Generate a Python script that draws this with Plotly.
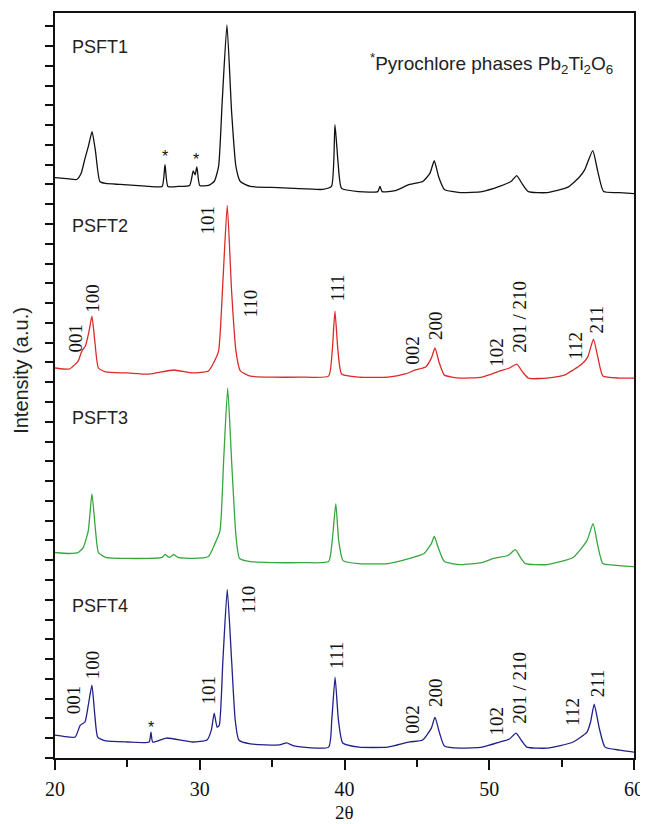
import plotly.graph_objects as go

# ---------------- data (stacked intensity, a.u.) ----------------
psft1_x = [20.0, 20.8, 21.5, 21.8, 22.07, 22.3, 22.56, 22.8, 23.1, 23.5, 24.5, 25.5, 26.5, 27.4, 27.6, 27.8,
           28.5, 29.3, 29.55, 29.68, 29.8, 30.0, 30.6, 31.0, 31.3, 31.55, 31.88, 32.2, 32.5, 32.8, 33.5, 35.0,
           36.5, 38.5, 39.1, 39.34, 39.55, 39.8, 41.0, 42.3, 42.45, 42.6, 43.5, 44.5, 45.4, 45.9, 46.2, 46.5,
           46.9, 48.0, 49.5, 50.7, 51.5, 51.9, 52.3, 52.7, 54.0, 55.4, 56.2, 56.6, 57.15, 57.5, 57.9, 59.0, 60.0]
psft1_y = [29.35, 29.30, 29.25, 29.55, 30.31, 30.91, 31.67, 30.66, 29.15, 29.05, 29.0, 28.95, 28.9, 28.9, 30.0, 28.9,
           28.9, 28.95, 29.69, 29.49, 29.89, 28.95, 28.95, 29.15, 29.9, 33.18, 37.07, 32.68, 29.9, 29.15, 28.9, 28.85,
           28.8, 28.75, 28.9, 32.02, 30.16, 28.8, 28.64, 28.64, 28.9, 28.64, 28.69, 29.0, 29.15, 29.56, 30.2, 29.4,
           28.75, 28.59, 28.64, 28.9, 29.15, 29.45, 29.0, 28.64, 28.59, 28.85, 29.35, 29.75, 30.71, 29.65, 28.64, 28.59, 28.54]

psft2_x = [20.0, 21.0, 21.6, 21.85, 22.1, 22.35, 22.55, 22.75, 23.0, 23.5, 25.0, 26.5, 28.2, 29.5, 30.6, 30.95,
           31.3, 31.6, 31.9, 32.2, 32.5, 32.8, 33.5, 35.0, 37.0, 38.9, 39.15, 39.34, 39.55, 39.8, 41.0, 43.0,
           44.2, 44.9, 45.6, 46.0, 46.25, 46.55, 46.9, 48.0, 49.5, 50.75, 51.4, 51.9, 52.3, 52.7, 54.0, 55.2,
           55.8, 56.4, 56.8, 57.2, 57.5, 57.85, 59.0, 60.0]
psft2_y = [19.72, 19.67, 20.07, 20.57, 20.83, 21.58, 22.34, 21.08, 19.72, 19.52, 19.47, 19.41, 19.62, 19.47, 19.57, 19.97,
           20.57, 24.1, 27.94, 23.6, 20.57, 19.57, 19.31, 19.26, 19.26, 19.31, 20.57, 22.59, 20.57, 19.42, 19.26, 19.26,
           19.42, 19.62, 19.77, 20.22, 20.73, 19.97, 19.36, 19.21, 19.26, 19.57, 19.72, 19.92, 19.52, 19.21, 19.21, 19.36,
           19.62, 19.92, 20.27, 21.18, 20.27, 19.31, 19.21, 19.21]

psft3_x = [20.0, 21.0, 21.6, 21.95, 22.3, 22.55, 22.8, 23.0, 23.5, 25.0, 27.4, 27.6, 27.9, 28.2, 28.5, 29.5,
           30.6, 31.05, 31.4, 31.65, 31.93, 32.2, 32.5, 32.75, 33.5, 35.0, 37.0, 38.9, 39.15, 39.4, 39.6, 39.9,
           41.0, 43.0, 44.5, 45.5, 46.0, 46.2, 46.5, 46.9, 48.0, 49.5, 50.3, 51.3, 51.8, 52.2, 52.5, 54.0,
           55.8, 56.75, 57.17, 57.5, 57.85, 59.0, 60.0]
psft3_y = [10.39, 10.34, 10.39, 10.64, 11.5, 13.36, 11.5, 10.39, 10.14, 10.09, 10.14, 10.29, 10.14, 10.29, 10.14, 10.09,
           10.19, 10.84, 11.5, 15.03, 18.71, 15.03, 11.25, 10.09, 9.93, 9.88, 9.88, 9.93, 10.99, 12.86, 10.99, 9.98,
           9.83, 9.83, 10.09, 10.34, 10.84, 11.2, 10.59, 9.93, 9.78, 9.88, 10.09, 10.24, 10.54, 10.09, 9.83, 9.78,
           10.14, 10.99, 11.85, 10.74, 9.83, 9.73, 9.68]

psft4_x = [20.0, 21.0, 21.4, 21.75, 22.07, 22.3, 22.55, 22.75, 22.95, 23.5, 25.0, 26.5, 26.63, 26.75, 27.7, 29.5,
           30.5, 30.8, 31.0, 31.2, 31.35, 31.6, 31.9, 32.2, 32.45, 32.7, 33.5, 35.5, 36.0, 36.5, 38.9, 39.12,
           39.35, 39.58, 39.88, 41.0, 43.0, 44.5, 45.4, 46.0, 46.25, 46.55, 46.9, 48.0, 49.5, 50.75, 51.4, 51.85,
           52.25, 52.6, 54.0, 55.8, 56.75, 57.0, 57.25, 57.6, 58.0, 59.0, 60.0]
psft4_y = [1.16, 1.06, 1.06, 1.66, 1.82, 2.67, 3.68, 2.17, 1.06, 0.86, 0.81, 0.81, 1.31, 0.81, 1.01, 0.81,
           0.91, 1.41, 2.27, 1.56, 1.66, 4.94, 8.52, 4.94, 1.92, 0.91, 0.71, 0.66, 0.76, 0.61, 0.55, 1.92,
           4.08, 1.92, 0.76, 0.55, 0.55, 0.81, 0.91, 1.51, 2.07, 1.31, 0.61, 0.5, 0.55, 0.81, 0.96, 1.26,
           0.86, 0.55, 0.5, 0.81, 1.31, 1.82, 2.72, 1.51, 0.55, 0.4, 0.3]

sample_names = ["PSFT1", "PSFT2", "PSFT3", "PSFT4"]
sample_label_y = [35.96, 26.88, 17.2, 7.67]

# Miller-index labels
hkl_labels = ["001", "100", "101", "110", "111", "002", "200", "102", "201 / 210", "112", "211"]
hkl_x_psft2 = [21.4, 22.6, 30.5, 33.5, 39.5, 44.7, 46.25, 50.5, 52.1, 55.9, 57.4]
hkl_y_psft2 = [21.23, 23.25, 27.23, 23.0, 23.75, 20.62, 21.89, 20.52, 22.29, 20.83, 22.19]
hkl_x_psft4 = [21.25, 22.55, 30.6, 33.35, 39.45, 44.65, 46.25, 50.5, 52.1, 55.7, 57.45]
hkl_y_psft4 = [2.92, 4.74, 3.43, 8.02, 5.19, 1.97, 3.33, 1.87, 3.53, 2.32, 3.78]

# pyrochlore markers (*)
star_x = [27.6, 29.75, 26.63]
star_y = [30.41, 30.26, 1.56]

colors = ["#111111", "#dc2a2a", "#37a63f", "#20208a"]

# ---------------- figure ----------------
fig = go.Figure()
series = [(psft1_x, psft1_y), (psft2_x, psft2_y), (psft3_x, psft3_y), (psft4_x, psft4_y)]
for (xs, ys), name, col in zip(series, sample_names, colors):
    fig.add_trace(go.Scatter(x=xs, y=ys, mode="lines", name=name,
                             line=dict(color=col, width=1.3, shape="spline", smoothing=0.5),
                             showlegend=False))

ann = []
for name, yv in zip(sample_names, sample_label_y):
    ann.append(dict(x=21.05, y=yv, xref="x", yref="y", text=name, showarrow=False,
                    xanchor="left", yanchor="middle",
                    font=dict(family="Liberation Sans, Arial", size=18, color="#222")))

for xs, ys in [(hkl_x_psft2, hkl_y_psft2), (hkl_x_psft4, hkl_y_psft4)]:
    for lab, xv, yv in zip(hkl_labels, xs, ys):
        ann.append(dict(x=xv, y=yv, xref="x", yref="y", text=lab, showarrow=False,
                        textangle=-90, xanchor="center", yanchor="middle",
                        font=dict(family="Liberation Serif, Times New Roman", size=19, color="#111")))

for xv, yv in zip(star_x, star_y):
    ann.append(dict(x=xv, y=yv, xref="x", yref="y", text="*", showarrow=False,
                    xanchor="center", yanchor="middle",
                    font=dict(family="Liberation Sans, Arial", size=16, color="#111")))

ann.append(dict(x=58.7, y=35.1, xref="x", yref="y",
                text="<sup>*</sup>Pyrochlore phases Pb<sub>2</sub>Ti<sub>2</sub>O<sub>6</sub>",
                showarrow=False, xanchor="right", yanchor="middle",
                font=dict(family="Liberation Sans, Arial", size=19, color="#222")))

ann.append(dict(x=-0.06, y=0.52, xref="paper", yref="paper", text="Intensity (a.u.)",
                showarrow=False, textangle=-90, xanchor="center", yanchor="middle",
                font=dict(family="Liberation Sans, Arial", size=20, color="#222")))

ann.append(dict(x=0.5, y=-0.0735, xref="paper", yref="paper", text="2θ",
                showarrow=False, xanchor="center", yanchor="middle",
                font=dict(family="Liberation Serif, Times New Roman", size=19, color="#111")))

# the page adds an 8 px body margin, so the figure is 8 px smaller and margins compensate
fig.update_layout(
    width=640, height=816,
    margin=dict(l=47, r=14, t=3, b=66),
    paper_bgcolor="white", plot_bgcolor="white",
    annotations=ann,
    xaxis=dict(range=[20, 60], tick0=20, dtick=10, ticks="outside", ticklen=10, tickwidth=2,
               tickcolor="#111", showline=True, linecolor="#111", linewidth=2, mirror=True,
               showgrid=False, zeroline=False, ticklabelstandoff=2,
               minor=dict(dtick=5, ticks="outside", ticklen=7, tickwidth=2, tickcolor="#111"),
               tickfont=dict(family="Liberation Serif, Times New Roman", size=20, color="#111")),
    yaxis=dict(range=[0, 37.67], tick0=0, dtick=1, ticks="outside", ticklen=8, tickwidth=2,
               tickcolor="#111", showline=True, linecolor="#111", linewidth=2, mirror=True,
               showgrid=False, zeroline=False, showticklabels=False),
)

fig.write_html("out.html")
